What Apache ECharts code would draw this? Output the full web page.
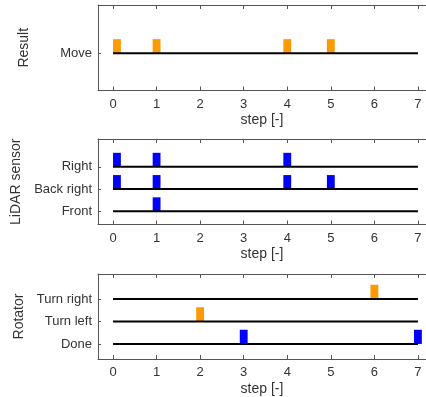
<!DOCTYPE html>
<html>
<head>
<meta charset="utf-8">
<script src="https://cdn.jsdelivr.net/npm/echarts@6/dist/echarts.min.js"></script>
<style>
  html, body { margin: 0; padding: 0; background: #fff; }
  #chart { width: 426px; height: 397px; }
</style>
</head>
<body>
<div id="chart"></div>
<script>
// data
var steps = [0, 1, 2, 3, 4, 5, 6, 7];

var resultCats = ['Move'];                          // y = 1
var lidarCats = ['Front', 'Back right', 'Right'];   // y = 1, 2, 3
var rotatorCats = ['Done', 'Turn left', 'Turn right'];

var moveSteps = [0, 1, 4, 5];

var lidarRight = [0, 1, 4];
var lidarBackRight = [0, 1, 4, 5];
var lidarFront = [1];

var rotTurnRight = [6];
var rotTurnLeft = [2];
var rotDone = [3, 7];

var ORANGE = '#ff9900';
var BLUE = '#0000ff';
var FONT = 'Liberation Sans';

var chart = echarts.init(document.getElementById('chart'));

var panels = [
    { top: 5, name: 'Result', cats: resultCats, min: -0.67, max: 3.16 },
    { top: 139, name: 'LiDAR sensor', cats: lidarCats, min: 0.41, max: 4.25 },
    { top: 274, name: 'Rotator', cats: rotatorCats, min: 0.33, max: 4.11 }
];

var grids = [], xAxes = [], yAxes = [], series = [];

panels.forEach(function (p, i) {
    grids.push({ left: 98, right: 0, top: p.top, height: 85.5 });
    // bottom axis
    xAxes.push({
        gridIndex: i, type: 'value', min: -0.345, max: 7.185,
        name: 'step [-]', nameLocation: 'middle', nameGap: 23,
        nameTextStyle: { fontFamily: FONT, fontSize: 14, color: '#333' },
        axisLine: { show: true, onZero: false, lineStyle: { color: '#555', width: 1 } },
        axisTick: { show: true, inside: true, length: 4, customValues: steps, lineStyle: { color: '#555' } },
        axisLabel: { customValues: steps, margin: 7, fontFamily: FONT, fontSize: 13, color: '#333' },
        splitLine: { show: false }
    });
    // top border with ticks
    xAxes.push({
        gridIndex: i, type: 'value', position: 'top', min: -0.345, max: 7.185,
        axisLine: { show: true, onZero: false, lineStyle: { color: '#555', width: 1 } },
        axisTick: { show: true, inside: true, length: 4, customValues: steps, lineStyle: { color: '#555' } },
        axisLabel: { show: false },
        splitLine: { show: false }
    });
    var vals = p.cats.map(function (c, k) { return k + 1; });
    yAxes.push({
        gridIndex: i, type: 'value', min: p.min, max: p.max,
        name: p.name, nameLocation: 'middle', nameGap: 67,
        nameTextStyle: { fontFamily: FONT, fontSize: 14, color: '#333' },
        axisLine: { show: true, onZero: false, lineStyle: { color: '#555', width: 1 } },
        axisTick: { show: true, inside: true, length: 3, customValues: vals, lineStyle: { color: '#555' } },
        axisLabel: {
            customValues: vals, margin: 6, fontFamily: FONT, fontSize: 13, color: '#333',
            formatter: function (v) { return p.cats[Math.round(v) - 1] || ''; }
        },
        splitLine: { show: false }
    });
    // baseline for each category
    p.cats.forEach(function (c, k) {
        series.push({
            type: 'line', xAxisIndex: i * 2, yAxisIndex: i,
            data: [[steps[0], k + 1], [steps[steps.length - 1], k + 1]],
            symbol: 'none', silent: true, z: 3,
            lineStyle: { color: '#000', width: 2 }
        });
    });
});

function bars(panel, level, list, color) {
    return {
        type: 'custom', xAxisIndex: panel * 2, yAxisIndex: panel, z: 2,
        data: list.map(function (s) { return [s, level]; }),
        renderItem: function (params, api) {
            var hw = 0.09, h = 0.63;
            var x0 = Math.max(api.value(0) - hw, 0);
            var p0 = api.coord([x0, api.value(1) + h]);
            var p1 = api.coord([x0 + 2 * hw, api.value(1)]);
            return {
                type: 'rect',
                shape: { x: p0[0], y: p0[1], width: p1[0] - p0[0], height: p1[1] - p0[1] },
                style: { fill: color }
            };
        }
    };
}

series.push(bars(0, 1, moveSteps, ORANGE));
series.push(bars(1, 3, lidarRight, BLUE));
series.push(bars(1, 2, lidarBackRight, BLUE));
series.push(bars(1, 1, lidarFront, BLUE));
series.push(bars(2, 3, rotTurnRight, ORANGE));
series.push(bars(2, 2, rotTurnLeft, ORANGE));
series.push(bars(2, 1, rotDone, BLUE));

chart.setOption({
    animation: false,
    grid: grids,
    xAxis: xAxes,
    yAxis: yAxes,
    series: series
});
</script>
</body>
</html>
